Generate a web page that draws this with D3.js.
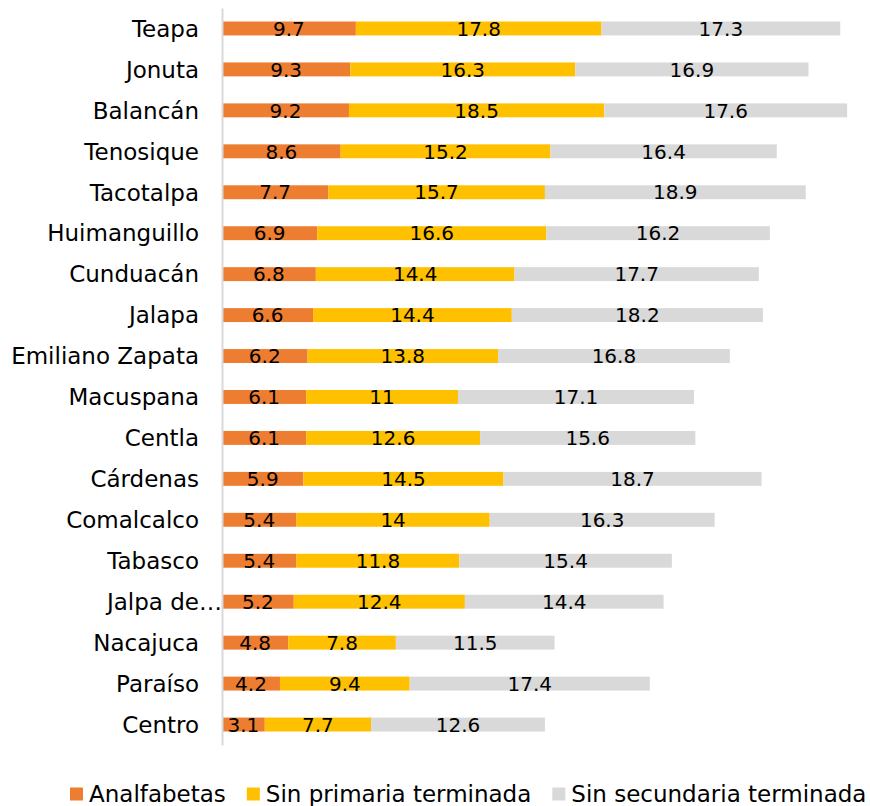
<!DOCTYPE html>
<html>
<head>
<meta charset="utf-8">
<script src="https://cdn.jsdelivr.net/npm/d3@7"></script>
<style>
  body { margin: 0; background: #fff; }
  text { font-family: "DejaVu Sans", sans-serif; fill: #000; }
</style>
</head>
<body>
<div id="chart"></div>
<script>
const municipios = ['Teapa', 'Jonuta', 'Balancán', 'Tenosique', 'Tacotalpa', 'Huimanguillo', 'Cunduacán', 'Jalapa',
  'Emiliano Zapata', 'Macuspana', 'Centla', 'Cárdenas', 'Comalcalco', 'Tabasco', 'Jalpa de…', 'Nacajuca', 'Paraíso', 'Centro'];
const analfabetas = [9.7, 9.3, 9.2, 8.6, 7.7, 6.9, 6.8, 6.6, 6.2, 6.1, 6.1, 5.9, 5.4, 5.4, 5.2, 4.8, 4.2, 3.1];
const sinPrimaria = [17.8, 16.3, 18.5, 15.2, 15.7, 16.6, 14.4, 14.4, 13.8, 11, 12.6, 14.5, 14, 11.8, 12.4, 7.8, 9.4, 7.7];
const sinSecundaria = [17.3, 16.9, 17.6, 16.4, 18.9, 16.2, 17.7, 18.2, 16.8, 17.1, 15.6, 18.7, 16.3, 15.4, 14.4, 11.5, 17.4, 12.6];
const seriesNames = ['Analfabetas', 'Sin primaria terminada', 'Sin secundaria terminada'];
const colors = ['#ED7D31', '#FFC000', '#D9D9D9'];

const width = 870, height = 806;

const svg = d3.select('#chart').append('svg')
  .attr('width', width)
  .attr('height', height);

const rows = municipios.map((m, i) => ({ m, a: analfabetas[i], p: sinPrimaria[i], s: sinSecundaria[i] }));
const stack = d3.stack().keys(['a', 'p', 's'])(rows);

const x = d3.scaleLinear().domain([0, 50]).range([222, 912]);
const y = d3.scaleBand().domain(municipios).range([8, 745]).paddingInner(0.66).paddingOuter(0.33);

const groups = svg.selectAll('g.serie')
  .data(stack)
  .enter().append('g')
  .attr('class', 'serie')
  .attr('fill', (d, i) => colors[i]);

groups.selectAll('rect')
  .data(d => d)
  .enter().append('rect')
  .attr('x', d => x(d[0]))
  .attr('y', d => y(d.data.m))
  .attr('width', d => x(d[1]) - x(d[0]))
  .attr('height', y.bandwidth());

// etiquetas de datos
groups.selectAll('text')
  .data(d => d)
  .enter().append('text')
  .attr('x', d => (x(d[0]) + x(d[1])) / 2)
  .attr('y', d => y(d.data.m) + y.bandwidth() / 2)
  .attr('dy', '0.36em')
  .attr('text-anchor', 'middle')
  .style('font-size', '20px')
  .text(d => d[1] - d[0] === 0 ? '' : d3.format('~')(+(d[1] - d[0]).toFixed(1)));

// eje vertical
const yAxis = d3.axisLeft(y).tickSize(0).tickPadding(23);
const gy = svg.append('g').attr('transform', `translate(${x(0)},0)`).call(yAxis);
gy.select('.domain').attr('stroke', '#D9D9D9').attr('stroke-width', 2);
gy.selectAll('.tick text')
  .style('font-size', '23px')
  .attr('fill', '#000')
  .attr('dy', '0.36em');
gy.selectAll('.tick text').filter(d => d.endsWith('…')).attr('dx', 23);

// leyenda
const legend = svg.append('g').attr('transform', 'translate(0,794)');
let lx = 70;
seriesNames.forEach((name, i) => {
  legend.append('rect').attr('x', lx).attr('y', -6.5).attr('width', 13).attr('height', 13).attr('fill', colors[i]);
  const t = legend.append('text').attr('x', lx + 19).attr('dy', '0.36em').style('font-size', '23px').text(name);
  lx += 19 + t.node().getComputedTextLength() + 21;
});
</script>
</body>
</html>
